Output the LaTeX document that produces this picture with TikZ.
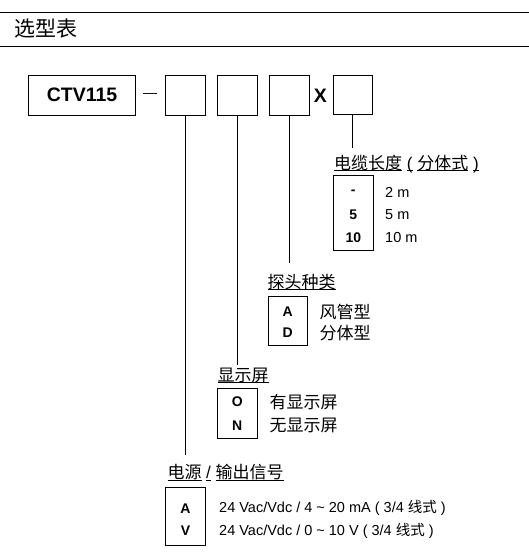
\documentclass[tikz,border=0pt]{standalone}
\usepackage{fontspec}
\setmainfont{Liberation Sans}
\newfontfamily\cjk{Noto Sans CJK SC}
\usepackage{tikz}
\usetikzlibrary{positioning}

\newcommand{\hseg}[1]{\underline{\smash{#1}}}

\begin{document}
\begin{tikzpicture}[
    x=1pt, y=-1pt,
    box/.style={draw, line width=1pt, minimum width=40pt, minimum height=40pt, inner sep=0pt},
    hdg/.style={anchor=base west, inner sep=0pt, font=\fontsize{17}{20}\selectfont},
    code/.style={inner sep=0pt, font=\fontsize{14}{17}\selectfont\bfseries},
    desc/.style={anchor=west, inner sep=0pt, font=\fontsize{14.5}{17}\selectfont},
    lead/.style={line width=0.8pt}
]

\useasboundingbox (0,0) rectangle (529,560);


% Titel

\draw[line width=1pt] (0,12) -- (529,12);
\draw[line width=1pt] (0,46) -- (529,46);

\node[
    anchor=west,
    inner sep=0pt,
    font=\fontsize{21}{25}\selectfont\cjk
] (title) at (14,29) {选型表};


% Bestellcode

\node[
    box,
    minimum width=107pt,
    font=\fontsize{19.5}{23}\selectfont\bfseries
] (ctv) at (82,95) {CTV115};

\node[font=\fontsize{14}{16}\selectfont] (dash) at (150,95.5) {---};

\node[box] (b1) at (185.7,95) {};
\node[box] (b2) at (237.3,95) {};
\node[box] (b3) at (289.3,95) {};

\node[font=\fontsize{19.5}{23}\selectfont\bfseries] (times) at (320.5,96) {X};

\node[box, minimum width=39pt, minimum height=39pt] (b4) at (352.8,94.5) {};


% Kabellaenge

\coordinate (e4) at (b4.south |- 0,148.3);
\draw[lead] (b4.south) -- (e4);

\node[hdg] (h4) at (334,169)
    {{\cjk\hseg{电缆长度}} \hseg{(} \hseg{{\cjk 分体式}} \hseg{)}};

\node[box, minimum height=75pt] (l4) at (353.3,213.2) {};
\node[code] (l4a) at (353.3,192.7) {-};
\node[code] (l4b) at (353.3,215) {5};
\node[code] (l4c) at (353.3,238) {10};
\node[desc] (d4a) at (385,192.7) {2 m};
\node[desc] (d4b) at (385,215) {5 m};
\node[desc] (d4c) at (385,238) {10 m};


% Fuehlerart

\coordinate (e3) at (b3.south |- 0,263.3);
\draw[lead] (b3.south) -- (e3);

\node[hdg] (h3) at (267.3,288) {\cjk\hseg{探头种类}};

\node[box, minimum width=39pt, minimum height=49pt] (l3) at (287.8,320.5) {};
\node[code] (l3a) at (287.8,311.7) {A};
\node[code] (l3b) at (287.8,332.7) {D};
\node[desc, font=\fontsize{17}{20}\selectfont\cjk] (d3a) at (319.3,311.7) {风管型};
\node[desc, font=\fontsize{17}{20}\selectfont\cjk] (d3b) at (319.3,332.7) {分体型};


% Anzeige

\coordinate (e2) at (b2.south |- 0,365);
\draw[lead] (b2.south) -- (e2);

\node[hdg] (h2) at (217.3,381) {\cjk\hseg{显示屏}};

\node[box, minimum height=50pt] (l2) at (237.3,413.3) {};
\node[code] (l2a) at (237.3,401.7) {O};
\node[code] (l2b) at (237.3,425.7) {N};
\node[desc, font=\fontsize{17}{20}\selectfont\cjk] (d2a) at (269.3,401.7) {有显示屏};
\node[desc, font=\fontsize{17}{20}\selectfont\cjk] (d2b) at (269.3,425.7) {无显示屏};


% Versorgung / Ausgang

\coordinate (e1) at (b1.south |- 0,455);
\draw[lead] (b1.south) -- (e1);

\node[hdg] (h1) at (167.3,478.5)
    {{\cjk\hseg{电源}} \hseg{/} {\cjk\hseg{输出信号}}};

\node[box, minimum width=39.6pt, minimum height=57.7pt] (l1) at (185.5,516.2) {};
\node[code] (l1a) at (185.5,508.3) {A};
\node[code] (l1b) at (185.5,530.7) {V};
\node[desc] (d1a) at (219,508.3)
    {24 Vac/Vdc / 4 \textasciitilde{} 20 mA ( 3/4 {\cjk 线式} )};
\node[desc] (d1b) at (219,530.7)
    {24 Vac/Vdc / 0 \textasciitilde{} 10 V ( 3/4 {\cjk 线式} )};

\end{tikzpicture}
\end{document}
